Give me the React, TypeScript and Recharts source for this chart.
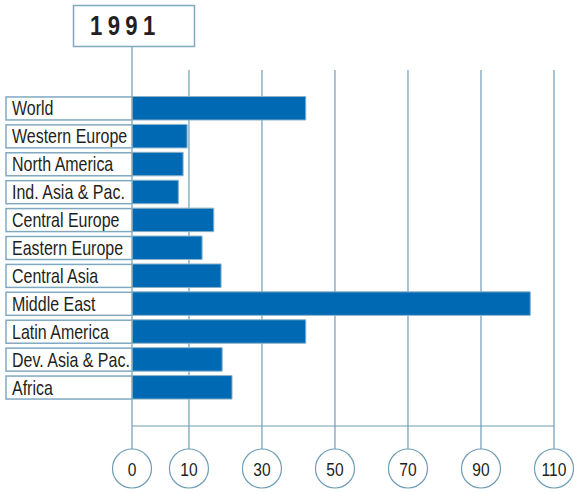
import { BarChart, Bar, XAxis, YAxis, CartesianGrid } from "recharts";

const regions = [
  "World",
  "Western Europe",
  "North America",
  "Ind. Asia & Pac.",
  "Central Europe",
  "Eastern Europe",
  "Central Asia",
  "Middle East",
  "Latin America",
  "Dev. Asia & Pac.",
  "Africa",
];
const values1991 = [42, 9.5, 8.4, 7.1, 16.8, 13.6, 18.8, 103.5, 42, 19.1, 21.8];

// the printed "0" sits left of where a linear scale through 10..110 would put it
const AXIS_ORIGIN = -5.6;
const tickValues = [AXIS_ORIGIN, 10, 30, 50, 70, 90, 110];
const tickLabels = ["0", "10", "30", "50", "70", "90", "110"];
const title = "1991";

const data = regions.map((region, i) => ({ region, value: values1991[i] }));

const FONT = "'Liberation Sans', Arial, sans-serif";
const LINE = "#6f9db6";
const BOX = "#80a9c0";
const TEXT = "#231f20";

// text drawn with a horizontal squeeze around its anchor point (fakes a condensed face)
function NarrowText({ x, y, size, anchor = "start", bold, spacing, squeeze = 0.82, children }: any) {
  return (
    <text
      transform={`translate(${x},${y}) scale(${squeeze},1)`}
      textAnchor={anchor}
      fill={TEXT}
      fontSize={size}
      fontWeight={bold ? "bold" : "normal"}
      letterSpacing={spacing}
      fontFamily={FONT}
    >
      {children}
    </text>
  );
}

function RegionTick({ x, y, payload }: any) {
  return (
    <g>
      <rect x={x - 126} y={y - 11.5} width={126} height={23} fill="#fff" stroke={BOX} strokeWidth={1.5} />
      <NarrowText x={x - 120} y={y + 7} size={20.5} squeeze={0.78}>
        {payload.value}
      </NarrowText>
    </g>
  );
}

function ValueTick({ x, y, index }: any) {
  const r = 19.5;
  return (
    <g>
      <circle cx={x} cy={y + r} r={r} fill="#fff" stroke={LINE} strokeWidth={1.2} />
      <NarrowText x={x} y={y + r + 7} size={19} anchor="middle">
        {tickLabels[index]}
      </NarrowText>
    </g>
  );
}

export default function App() {
  return (
    <div style={{ position: "absolute", left: 0, top: 0, background: "#fff" }}>
      <BarChart
        width={574}
        height={492}
        data={data}
        layout="vertical"
        margin={{ top: 70, right: 20, bottom: 6, left: 6 }}
        barCategoryGap={0}
      >
        <CartesianGrid horizontal={false} stroke={LINE} strokeWidth={1.2} />
        <XAxis
          type="number"
          domain={[AXIS_ORIGIN, 110]}
          ticks={tickValues}
          allowDataOverflow
          height={60}
          tickSize={23}
          tickMargin={0}
          axisLine={{ stroke: LINE, strokeWidth: 1.2 }}
          tickLine={{ stroke: LINE, strokeWidth: 1.2 }}
          tick={<ValueTick />}
          interval={0}
        />
        <YAxis
          type="category"
          dataKey="region"
          width={126}
          tickSize={0}
          tickMargin={0}
          axisLine={false}
          tickLine={false}
          padding={{ top: 24.5, bottom: 24.5 }}
          tick={<RegionTick />}
          interval={0}
        />
        <Bar
          dataKey={(d: any) => [AXIS_ORIGIN, d.value]}
          barSize={23.5}
          fill="#0069b4"
          stroke="#8cb2c8"
          strokeWidth={1}
          isAnimationActive={false}
        />
        <g>
          <line x1={132} y1={46} x2={132} y2={70} stroke={LINE} strokeWidth={1.2} />
          <rect x={73.5} y={5.5} width={121} height={41} fill="#fff" stroke={BOX} strokeWidth={1.5} />
          <NarrowText x={90} y={35} size={27} bold spacing={6.5}>
            {title}
          </NarrowText>
        </g>
      </BarChart>
    </div>
  );
}
